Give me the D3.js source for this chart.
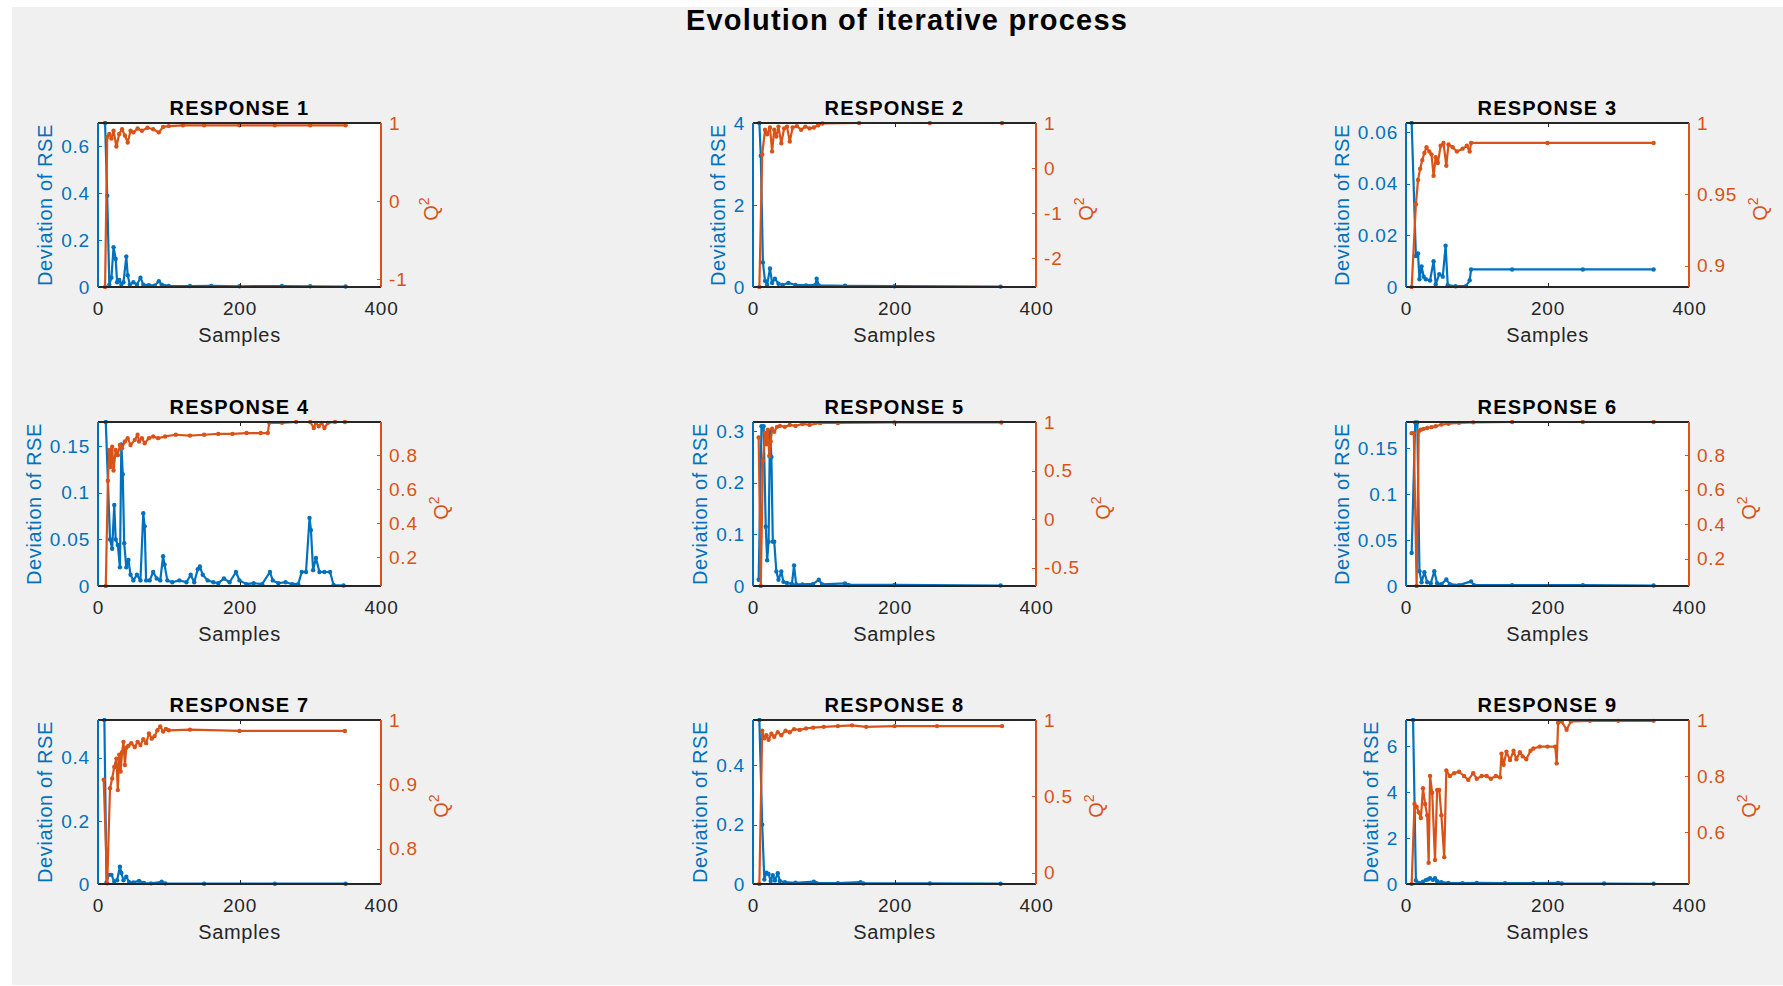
<!DOCTYPE html>
<html>
<head>
<meta charset="utf-8">
<title>Evolution of iterative process</title>
<script src="https://cdn.jsdelivr.net/npm/d3@7"></script>
<style>
  body { margin: 0; background: #fff; }
  svg text { font-family: "Liberation Sans", Arial, Helvetica, sans-serif; }
</style>
</head>
<body>
<svg id="fig" width="1783" height="986"></svg>
<script>
// ---- values: [sample, value] ----
const responses = ["RESPONSE 1","RESPONSE 2","RESPONSE 3","RESPONSE 4","RESPONSE 5","RESPONSE 6","RESPONSE 7","RESPONSE 8","RESPONSE 9"];
const xTicks = [0, 200, 400];

const rse1 = [[10,0.70],[13,0.39],[16,0.01],[19,0.04],[22,0.17],[25,0.12],[27,0.02],[30,0.03],[33,0.01],[36,0.02],[40,0.13],[42,0.05],[45,0.01],[50,0.02],[55,0.01],[60,0.04],[64,0.01],[72,0.008],[80,0.006],[86,0.025],[90,0.01],[100,0.005],[130,0.004],[160,0.005],[200,0.003],[260,0.004],[300,0.003],[350,0.002]];
const q2_1 = [[10,-1.1],[13,0.82],[16,0.86],[19,0.80],[22,0.90],[26,0.70],[30,0.86],[34,0.92],[38,0.84],[42,0.75],[46,0.90],[50,0.88],[56,0.93],[62,0.90],[70,0.94],[78,0.92],[86,0.88],[92,0.95],[100,0.96],[120,0.97],[150,0.97],[200,0.97],[250,0.97],[300,0.97],[350,0.97]];

const rse2 = [[9,4.0],[11,3.2],[14,0.6],[17,0.15],[20,0.05],[24,0.45],[27,0.1],[31,0.2],[36,0.08],[42,0.05],[50,0.1],[60,0.05],[75,0.04],[88,0.05],[90,0.2],[93,0.04],[130,0.03],[200,0.02],[350,0.01]];
const q2_2 = [[9,-2.64],[13,0.30],[17,0.85],[20,0.75],[24,0.90],[27,0.37],[30,0.85],[33,0.70],[36,0.92],[40,0.55],[44,0.88],[48,0.92],[52,0.59],[56,0.90],[62,0.93],[68,0.85],[74,0.92],[80,0.88],[86,0.90],[92,0.95],[98,0.99],[150,1.0],[250,1.0],[352,1.0]];

const rse3 = [[8,0.0635],[14,0.012],[17,0.013],[19,0.003],[22,0.008],[25,0.004],[28,0.003],[34,0.0025],[39,0.010],[42,0.001],[47,0.005],[52,0.004],[56,0.016],[59,0.0007],[70,0.0003],[85,0.0004],[90,0.0026],[92,0.0068],[150,0.0068],[250,0.0068],[350,0.0068]];
const q2_3 = [[8,0.885],[14,0.943],[17,0.960],[20,0.968],[23,0.974],[26,0.979],[29,0.983],[33,0.980],[36,0.978],[39,0.963],[42,0.976],[45,0.972],[49,0.984],[53,0.986],[57,0.970],[60,0.985],[66,0.983],[72,0.980],[80,0.982],[86,0.984],[90,0.980],[92,0.986],[200,0.986],[350,0.986]];

const rse4 = [[11,0.176],[17,0.05],[20,0.04],[23,0.087],[25,0.05],[28,0.044],[31,0.02],[33,0.152],[35,0.12],[37,0.046],[40,0.02],[43,0.028],[46,0.012],[50,0.006],[55,0.012],[60,0.006],[64,0.078],[66,0.064],[68,0.006],[73,0.006],[78,0.015],[83,0.008],[88,0.006],[92,0.032],[94,0.023],[98,0.006],[105,0.004],[115,0.006],[125,0.004],[131,0.012],[136,0.004],[141,0.018],[144,0.021],[148,0.012],[155,0.006],[163,0.004],[170,0.003],[178,0.008],[186,0.004],[195,0.015],[200,0.006],[210,0.002],[220,0.003],[232,0.002],[243,0.015],[247,0.006],[255,0.003],[265,0.004],[275,0.002],[283,0.002],[288,0.015],[294,0.015],[299,0.073],[301,0.060],[304,0.017],[308,0.030],[313,0.015],[320,0.015],[328,0.015],[333,0.001],[347,0.0005]];
const q2_4 = [[11,0.03],[14,0.65],[16,0.83],[18,0.73],[20,0.85],[22,0.71],[25,0.83],[28,0.80],[31,0.86],[34,0.84],[38,0.88],[42,0.90],[46,0.86],[52,0.89],[56,0.92],[58,0.88],[62,0.90],[66,0.87],[72,0.90],[78,0.91],[85,0.90],[95,0.91],[110,0.92],[130,0.915],[150,0.92],[170,0.925],[190,0.925],[210,0.93],[230,0.93],[240,0.93],[242,0.99],[260,0.99],[280,0.995],[300,0.995],[305,0.96],[308,0.99],[312,0.97],[316,0.99],[320,0.96],[325,0.99],[335,0.995],[349,0.995]];

const rse5 = [[8,0.012],[12,0.31],[15,0.31],[18,0.115],[20,0.05],[22,0.086],[24,0.30],[26,0.25],[28,0.086],[30,0.086],[33,0.028],[36,0.012],[40,0.028],[43,0.008],[48,0.006],[55,0.004],[58,0.040],[61,0.003],[70,0.003],[85,0.004],[93,0.012],[98,0.003],[130,0.005],[135,0.002],[200,0.002],[350,0.001]];
const q2_5 = [[8,0.84],[11,-0.69],[14,0.60],[17,0.89],[19,0.77],[21,0.92],[23,0.65],[25,0.80],[27,0.93],[30,0.90],[34,0.95],[38,0.96],[45,0.95],[52,0.97],[60,0.96],[70,0.98],[80,0.97],[95,0.99],[120,0.99],[200,0.995],[351,0.995]];

const rse6 = [[8,0.036],[13,0.178],[16,0.178],[19,0.016],[22,0.004],[26,0.015],[30,0.004],[35,0.003],[40,0.016],[44,0.003],[50,0.002],[57,0.007],[62,0.002],[75,0.001],[92,0.005],[96,0.001],[150,0.001],[250,0.001],[350,0.0005]];
const q2_6 = [[8,0.93],[11,0.93],[15,0.04],[18,0.94],[21,0.95],[25,0.955],[30,0.96],[36,0.965],[42,0.97],[50,0.98],[60,0.985],[75,0.99],[95,0.993],[150,0.995],[250,0.995],[350,0.995]];

const rse7 = [[9,0.52],[12,0.005],[15,0.029],[19,0.029],[23,0.008],[27,0.012],[31,0.055],[33,0.035],[36,0.012],[40,0.023],[44,0.006],[50,0.005],[58,0.010],[65,0.003],[75,0.002],[90,0.007],[95,0.002],[150,0.001],[250,0.001],[350,0.001]];
const q2_7 = [[8,0.907],[13,0.746],[17,0.894],[20,0.909],[23,0.927],[26,0.94],[28,0.891],[30,0.946],[32,0.92],[34,0.95],[36,0.966],[38,0.93],[40,0.957],[43,0.96],[47,0.964],[52,0.958],[56,0.966],[60,0.961],[64,0.97],[68,0.964],[72,0.979],[76,0.971],[80,0.975],[84,0.984],[88,0.99],[92,0.982],[96,0.986],[100,0.984],[130,0.985],[200,0.983],[349,0.983]];

const rse8 = [[9,0.552],[13,0.2],[16,0.015],[19,0.038],[22,0.034],[25,0.01],[28,0.03],[31,0.012],[35,0.036],[38,0.01],[45,0.006],[60,0.004],[86,0.008],[90,0.003],[120,0.003],[152,0.006],[156,0.002],[250,0.002],[350,0.001]];
const q2_8 = [[9,-0.075],[13,0.93],[16,0.88],[19,0.90],[22,0.87],[26,0.91],[30,0.89],[35,0.92],[40,0.90],[46,0.93],[52,0.92],[58,0.94],[66,0.935],[75,0.945],[85,0.95],[100,0.955],[120,0.96],[140,0.965],[160,0.955],[200,0.96],[260,0.96],[352,0.96]];

const rse9 = [[10,7.13],[14,0.15],[18,0.05],[24,0.1],[28,0.17],[31,0.2],[34,0.25],[38,0.18],[41,0.25],[44,0.12],[50,0.08],[60,0.05],[80,0.04],[100,0.05],[140,0.04],[180,0.04],[215,0.05],[220,0.02],[280,0.02],[350,0.01]];
const q2_9 = [[8,0.414],[12,0.70],[15,0.69],[18,0.67],[21,0.65],[24,0.756],[27,0.70],[30,0.66],[32,0.49],[34,0.80],[37,0.74],[41,0.50],[44,0.75],[47,0.75],[50,0.66],[54,0.51],[57,0.82],[62,0.80],[68,0.81],[75,0.815],[82,0.80],[88,0.786],[95,0.81],[100,0.79],[107,0.80],[114,0.80],[120,0.79],[127,0.80],[133,0.795],[135,0.88],[138,0.84],[142,0.887],[147,0.857],[152,0.89],[156,0.86],[161,0.885],[165,0.87],[170,0.86],[176,0.89],[180,0.898],[189,0.905],[200,0.905],[211,0.905],[213,0.845],[215,0.99],[220,0.995],[227,0.965],[233,0.995],[260,0.997],[300,0.997],[350,0.997]];

// axis limits and tick labels
const rseLims = [[0,0.70],[0,4],[0,0.0635],[0,0.176],[0,0.318],[0,0.1785],[0,0.52],[0,0.552],[0,7.13]];
const q2Lims = [[-1.1,1],[-2.64,1],[0.885,1],[0.03,0.995],[-0.69,1],[0.04,0.995],[0.745,1],[-0.075,1],[0.414,1]];
const rseTicks = [[0,0.2,0.4,0.6],[0,2,4],[0,0.02,0.04,0.06],[0,0.05,0.1,0.15],[0,0.1,0.2,0.3],[0,0.05,0.1,0.15],[0,0.2,0.4],[0,0.2,0.4],[0,2,4,6]];
const q2Ticks = [[-1,0,1],[-2,-1,0,1],[0.9,0.95,1],[0.2,0.4,0.6,0.8],[-0.5,0,0.5,1],[0.2,0.4,0.6,0.8],[0.8,0.9,1],[0,0.5,1],[0.6,0.8,1]];

const rseSeries = [rse1, rse2, rse3, rse4, rse5, rse6, rse7, rse8, rse9];
const q2Series = [q2_1, q2_2, q2_3, q2_4, q2_5, q2_6, q2_7, q2_8, q2_9];

// ---- layout ----
const W = 1783, H = 986;
const colX = [98, 753, 1406], rowY = [123, 422, 720];
const pw = 283, ph = 164;
const BLUE = "#0072BD", ORANGE = "#D95319", AXC = "#262626";

const svg = d3.select("#fig");
svg.append("rect").attr("width", W).attr("height", H).attr("fill", "#fff");
svg.append("rect").attr("x", 12).attr("y", 7).attr("width", W - 12).attr("height", H - 8).attr("fill", "#f0f0f0");

svg.append("text")
  .attr("x", 907).attr("y", 30)
  .attr("text-anchor", "middle")
  .attr("font-weight", "bold")
  .style("font-size", "29px").style("letter-spacing", "1.2px")
  .attr("fill", "#000")
  .text("Evolution of iterative process");

function styleAxis(g, color) {
  g.attr("font-size", null).attr("font-family", null);
  g.select(".domain").remove();
  g.selectAll("line").attr("stroke", color).attr("shape-rendering", "crispEdges");
  g.selectAll("text").attr("fill", color)
    .style("font-size", "19px").style("letter-spacing", "0.8px");
}

responses.forEach((title, i) => {
  const g = svg.append("g")
    .attr("transform", "translate(" + colX[i % 3] + "," + rowY[Math.floor(i / 3)] + ")");

  const x = d3.scaleLinear().domain([0, 400]).range([0, pw]);
  const yL = d3.scaleLinear().domain(rseLims[i]).range([ph, 0]);
  const yR = d3.scaleLinear().domain(q2Lims[i]).range([ph, 0]);

  g.append("rect").attr("width", pw).attr("height", ph).attr("fill", "#fff");

  g.append("clipPath").attr("id", "clip" + i)
    .append("rect").attr("x", -2).attr("y", -2).attr("width", pw + 4).attr("height", ph + 4);
  const plot = g.append("g").attr("clip-path", "url(#clip" + i + ")");

  // left: deviation of RSE
  plot.append("path").datum(rseSeries[i])
    .attr("fill", "none").attr("stroke", BLUE).attr("stroke-width", 2.2)
    .attr("stroke-linejoin", "round")
    .attr("d", d3.line().x(d => x(d[0])).y(d => yL(d[1])));
  plot.selectAll("circle.rse").data(rseSeries[i]).join("circle")
    .attr("class", "rse")
    .attr("cx", d => x(d[0])).attr("cy", d => yL(d[1])).attr("r", 2.2)
    .attr("fill", BLUE);

  // right: Q2
  plot.append("path").datum(q2Series[i])
    .attr("fill", "none").attr("stroke", ORANGE).attr("stroke-width", 2.2)
    .attr("stroke-linejoin", "round")
    .attr("d", d3.line().x(d => x(d[0])).y(d => yR(d[1])));
  plot.selectAll("circle.q2").data(q2Series[i]).join("circle")
    .attr("class", "q2")
    .attr("cx", d => x(d[0])).attr("cy", d => yR(d[1])).attr("r", 2.2)
    .attr("fill", ORANGE);

  // axes
  const xb = g.append("g").attr("transform", "translate(0," + ph + ")")
    .call(d3.axisBottom(x).tickValues(xTicks).tickSize(-4).tickPadding(15).tickFormat(d => String(d)));
  styleAxis(xb, AXC);
  const xt = g.append("g")
    .call(d3.axisTop(x).tickValues(xTicks).tickSize(-4).tickFormat(""));
  styleAxis(xt, AXC);

  const yl = g.append("g")
    .call(d3.axisLeft(yL).tickValues(rseTicks[i]).tickSize(-4).tickPadding(8).tickFormat(d => String(d)));
  styleAxis(yl, BLUE);
  const yr = g.append("g").attr("transform", "translate(" + pw + ",0)")
    .call(d3.axisRight(yR).tickValues(q2Ticks[i]).tickSize(-4).tickPadding(8).tickFormat(d => String(d)));
  styleAxis(yr, ORANGE);

  // box
  const edge = (x1, y1, x2, y2, c) => g.append("line")
    .attr("x1", x1).attr("y1", y1).attr("x2", x2).attr("y2", y2)
    .attr("stroke", c).attr("stroke-width", 1.2).attr("shape-rendering", "crispEdges");
  edge(0, 0, pw, 0, AXC);
  edge(0, ph, pw, ph, AXC);
  edge(0, 0, 0, ph, BLUE);
  edge(pw, 0, pw, ph, ORANGE);

  // titles and labels
  g.append("text")
    .attr("x", pw / 2).attr("y", -8)
    .attr("text-anchor", "middle").attr("font-weight", "bold")
    .style("font-size", "20px").style("letter-spacing", "1.2px")
    .attr("fill", "#000").text(title);

  g.append("text")
    .attr("x", pw / 2).attr("y", ph + 55)
    .attr("text-anchor", "middle")
    .style("font-size", "20px").style("letter-spacing", "0.7px")
    .attr("fill", AXC).text("Samples");

  const lw = d3.max(yl.selectAll("text").nodes(), n => n.getComputedTextLength());
  g.append("text")
    .attr("transform", "translate(" + (-8 - lw - 9) + "," + (ph / 2) + ") rotate(-90)")
    .attr("text-anchor", "middle")
    .style("font-size", "20px").style("letter-spacing", "0.6px")
    .attr("fill", BLUE).text("Deviation of RSE");

  const rw = d3.max(yr.selectAll("text").nodes(), n => n.getComputedTextLength());
  const q = g.append("text")
    .attr("transform", "translate(" + (pw + 8 + rw + 30) + "," + (ph / 2 + 4) + ") rotate(-90)")
    .attr("text-anchor", "middle")
    .style("font-size", "20px")
    .attr("fill", ORANGE);
  q.append("tspan").text("Q");
  q.append("tspan").attr("dy", -9).style("font-size", "14px").text("2");
});
</script>
</body>
</html>
